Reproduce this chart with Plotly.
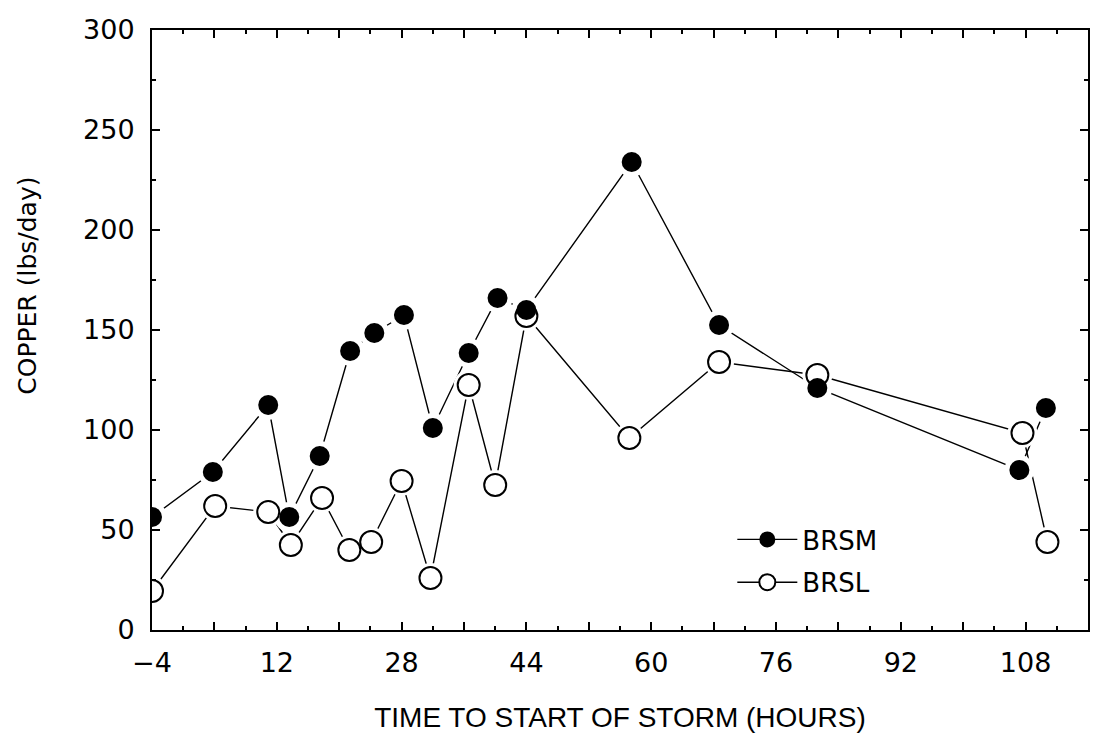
import plotly.graph_objects as go

# Data
time_brsm = [-4, 3.8, 10.9, 13.6, 17.5, 21.4, 24.5, 28.3, 32.0, 36.6, 40.3, 44.0, 57.5, 68.7, 81.3, 107.2, 110.6]
brsm = [56.5, 79, 112.5, 56.5, 87, 139.5, 148.5, 157.5, 101, 138.5, 166, 160, 234, 152.5, 121, 80, 111]

time_brsl = [-4, 4.1, 10.9, 13.8, 17.8, 21.3, 24.1, 28.0, 31.7, 36.6, 40.0, 44.0, 57.2, 68.7, 81.3, 107.6, 110.8]
brsl = [19.5, 62, 59, 42.5, 66, 40, 44, 74.5, 26, 122.5, 72.5, 157, 96, 134, 127.5, 98.5, 44]

x_tickvals = [-4, 4, 12, 20, 28, 36, 44, 52, 60, 68, 76, 84, 92, 100, 108, 116]
x_ticktext = ["\u22124", "", "12", "", "28", "", "44", "", "60", "", "76", "", "92", "", "108", ""]
y_tickvals = [0, 50, 100, 150, 200, 250, 300]

FONT = "DejaVu Sans, Liberation Sans, sans-serif"

fig = go.Figure()

# connecting lines (also legend entries)
fig.add_trace(go.Scatter(x=time_brsm, y=brsm, mode="lines+markers", name="BRSM", legendgroup="a",
                         line=dict(color="black", width=1.4),
                         marker=dict(symbol="circle", size=20, color="black")))
fig.add_trace(go.Scatter(x=time_brsl, y=brsl, mode="lines+markers", name="BRSL", legendgroup="b",
                         line=dict(color="black", width=1.4),
                         marker=dict(symbol="circle", size=22, color="white",
                                     line=dict(color="black", width=2))))
# white halos giving the gaps between lines and markers
fig.add_trace(go.Scatter(x=time_brsm, y=brsm, mode="markers", showlegend=False, hoverinfo="skip",
                         marker=dict(symbol="circle", size=30, color="white")))
fig.add_trace(go.Scatter(x=time_brsl, y=brsl, mode="markers", showlegend=False, hoverinfo="skip",
                         marker=dict(symbol="circle", size=30, color="white")))
# markers
fig.add_trace(go.Scatter(x=time_brsl, y=brsl, mode="markers", showlegend=False,
                         marker=dict(symbol="circle", size=22, color="white",
                                     line=dict(color="black", width=2))))
fig.add_trace(go.Scatter(x=time_brsm, y=brsm, mode="markers", showlegend=False,
                         marker=dict(symbol="circle", size=20, color="black")))

fig.update_layout(
    width=1094, height=748,
    margin=dict(l=152, r=4, t=30, b=118),
    paper_bgcolor="white", plot_bgcolor="white",
    font=dict(family=FONT, size=24, color="black"),
    legend=dict(x=0.62, y=0.19, xanchor="left", yanchor="top",
                bgcolor="rgba(0,0,0,0)", font=dict(size=26), itemwidth=60,
                tracegroupgap=6),
    xaxis=dict(range=[-4, 116], tickvals=x_tickvals, ticktext=x_ticktext,
               ticks="inside", ticklen=8, tickwidth=1.5, tickcolor="black",
               minor=dict(dtick=4, tick0=-4, ticks="inside", ticklen=4, tickcolor="black"),
               showline=True, linecolor="black", linewidth=2, mirror="ticks",
               showgrid=False, zeroline=False,
               tickfont=dict(size=27), ticklabelstandoff=8,
               title=dict(text="TIME TO START OF STORM (HOURS)",
                          font=dict(family="Liberation Sans, Arial, sans-serif", size=28),
                          standoff=30)),
    yaxis=dict(range=[0, 300], tickvals=y_tickvals,
               ticks="inside", ticklen=8, tickwidth=1.5, tickcolor="black",
               minor=dict(dtick=25, ticks="inside", ticklen=4, tickcolor="black"),
               showline=True, linecolor="black", linewidth=2, mirror="ticks",
               showgrid=False, zeroline=False,
               tickfont=dict(size=27), ticklabelstandoff=10),
    annotations=[dict(text="COPPER (lbs/day)", xref="paper", yref="paper",
                      x=-0.133, y=0.573, xanchor="center", yanchor="middle",
                      textangle=-90, showarrow=False, font=dict(size=25))],
)

fig.write_html("out.html")
